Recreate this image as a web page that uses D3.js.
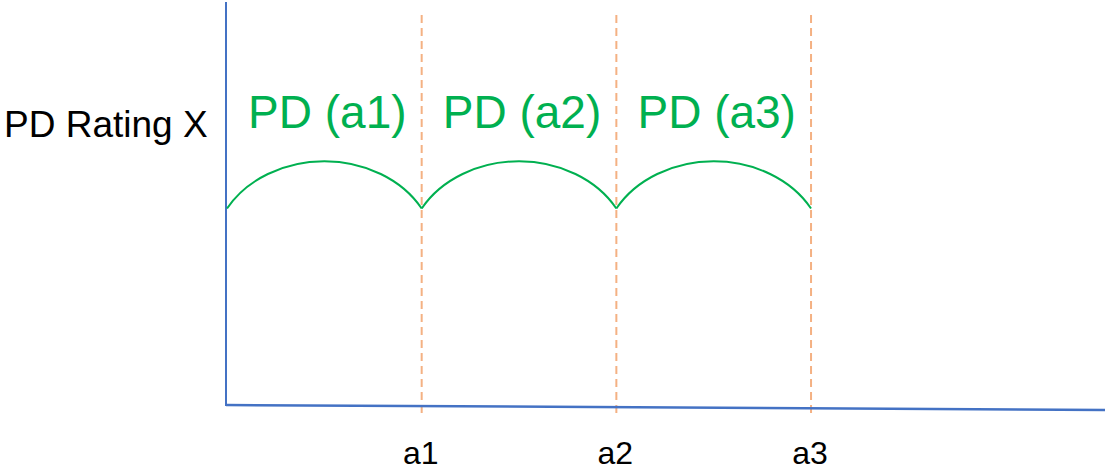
<!DOCTYPE html>
<html>
<head>
<meta charset="utf-8">
<script src="https://d3js.org/d3.v7.min.js"></script>
<style>
    body { margin: 0; background: #fff; }
    text { font-family: "Liberation Sans", Arial, sans-serif; }
</style>
</head>
<body>
<div id="chart"></div>
<script>
// tick labels on the time axis and the PD segments between them
const tickLabels = ["a1", "a2", "a3"];
const tickValues = [1, 2, 3];
const segmentLabels = ["PD (a1)", "PD (a2)", "PD (a3)"];
const segmentStarts = [0, 1, 2];
const segmentEnds = [1, 2, 3];
const ratingLabel = "PD Rating X";
const ratingLevel = 0.49;

const width = 1107;
const height = 472;

const axisColor = "#4472C4";
const dashColor = "#F4B183";
const green = "#00B050";

const svg = d3.select("#chart")
    .append("svg")
    .attr("width", width)
    .attr("height", height);

const x = d3.scaleLinear().domain([0, 4.51]).range([227, 1105]);
const y = d3.scaleLinear().domain([0, 1]).range([405, 4]);

// dashed vertical guides at each tick
svg.append("g")
    .selectAll("line")
    .data(tickValues)
    .enter().append("line")
    .attr("x1", d => x(d))
    .attr("x2", d => x(d))
    .attr("y1", 15)
    .attr("y2", 416)
    .attr("stroke", dashColor)
    .attr("stroke-width", 2)
    .attr("stroke-dasharray", "8,5");

// axes (x axis slightly tilted like the original drawing)
svg.append("line")
    .attr("x1", x(0) - 1).attr("y1", y(1) - 2)
    .attr("x2", x(0) - 1).attr("y2", y(0) + 1)
    .attr("stroke", axisColor)
    .attr("stroke-width", 2);

svg.append("line")
    .attr("x1", x(0) - 1).attr("y1", y(0))
    .attr("x2", x(4.51)).attr("y2", y(0) + 5)
    .attr("stroke", axisColor)
    .attr("stroke-width", 2.5);

// tick labels
svg.append("g")
    .selectAll("text")
    .data(tickValues)
    .enter().append("text")
    .attr("x", d => x(d) - 1)
    .attr("y", 464)
    .attr("text-anchor", "middle")
    .style("font-size", "32px")
    .style("fill", "#000")
    .text((d, i) => tickLabels[i]);

// rating label on the y axis
svg.append("text")
    .attr("x", 4)
    .attr("y", 137)
    .style("font-size", "37px")
    .style("fill", "#000")
    .text(ratingLabel);

// arcs for each PD segment
const baseY = y(ratingLevel);
svg.append("g")
    .selectAll("path")
    .data(segmentStarts)
    .enter().append("path")
    .attr("d", (d, i) => {
        const x0 = x(d), x1 = x(segmentEnds[i]);
        const half = (x1 - x0) / 2;
        const rx = half * 1.145, ry = 92;
        return "M" + x0 + "," + baseY + " A" + rx + "," + ry + " 0 0 1 " + x1 + "," + baseY;
    })
    .attr("fill", "none")
    .attr("stroke", green)
    .attr("stroke-width", 2);

svg.append("g")
    .selectAll("text")
    .data(segmentStarts)
    .enter().append("text")
    .attr("x", (d, i) => (x(d) + x(segmentEnds[i])) / 2 + 3)
    .attr("y", 128)
    .attr("text-anchor", "middle")
    .style("font-size", "46px")
    .style("fill", green)
    .text((d, i) => segmentLabels[i]);
</script>
</body>
</html>
